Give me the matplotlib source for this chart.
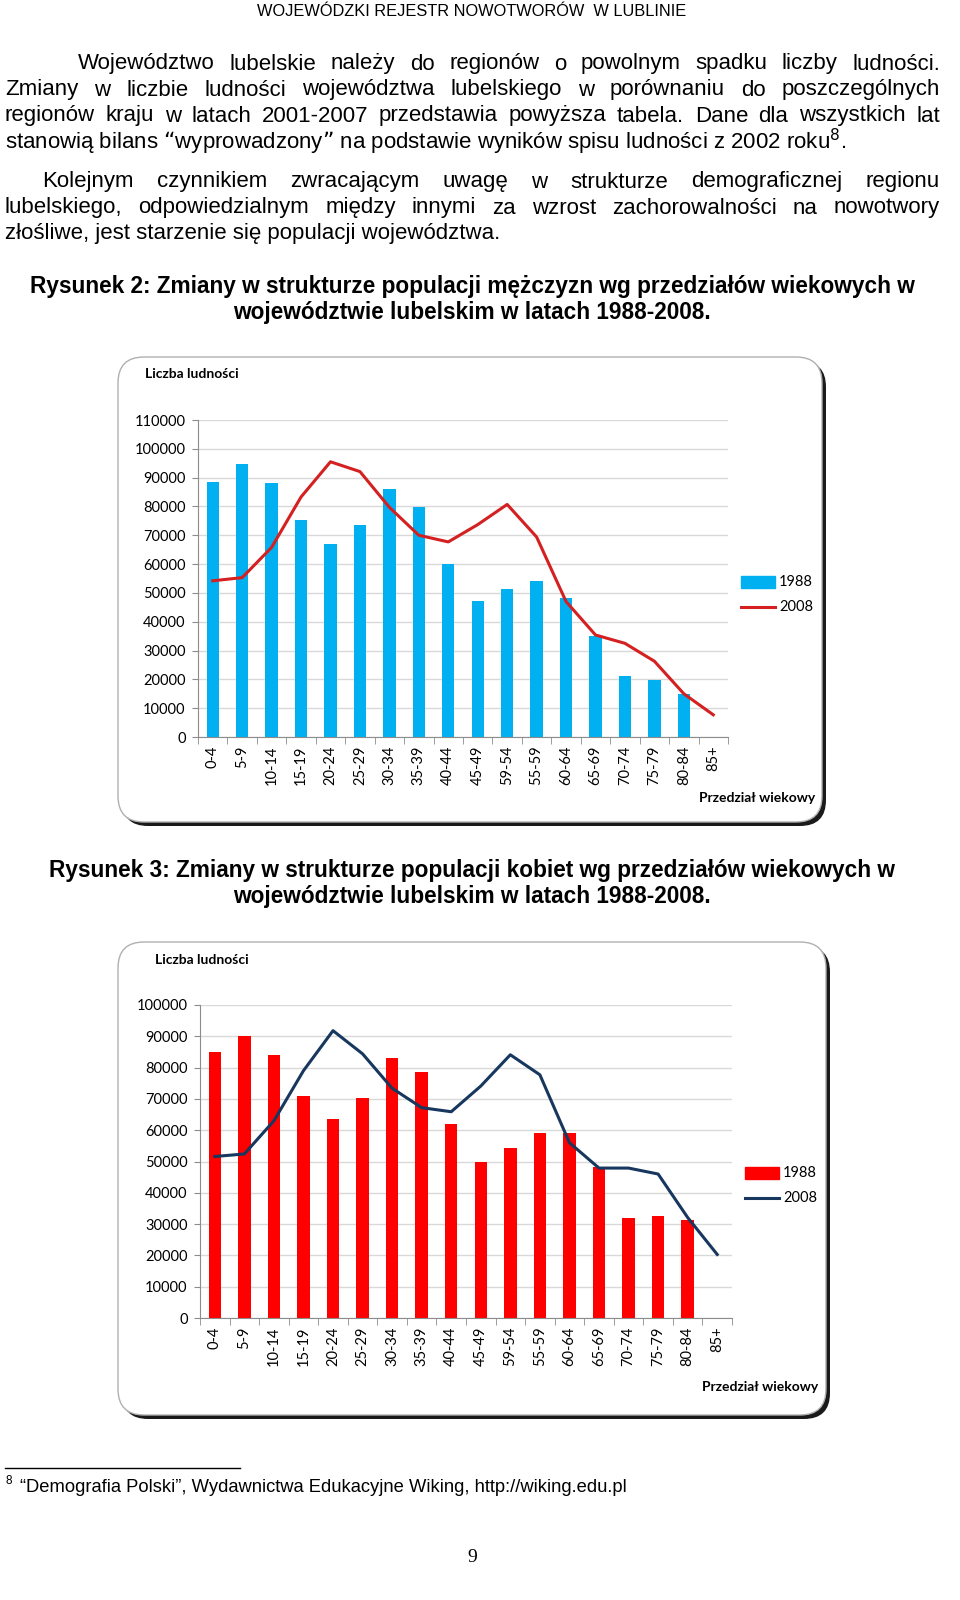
import matplotlib
matplotlib.use("Agg")
import matplotlib.pyplot as plt
import numpy as np
from matplotlib.patches import FancyBboxPatch, Rectangle

W, H = 960, 1600

groups = ["0-4", "5-9", "10-14", "15-19", "20-24", "25-29", "30-34", "35-39",
          "40-44", "45-49", "59-54", "55-59", "60-64", "65-69", "70-74",
          "75-79", "80-84", "85+"]

# Rysunek 2 - mezczyzni
men_1988 = [88400, 94600, 88100, 75400, 67100, 73400, 85900, 79800, 60200,
            47200, 51500, 54200, 48100, 34900, 21100, 19700, 14900]
men_2008 = [54200, 55300, 65800, 83300, 95500, 92100, 79700, 70000, 67700,
            73700, 80700, 69400, 47000, 35400, 32500, 26300, 15000, 7700]

# Rysunek 3 - kobiety
women_1988 = [85000, 90200, 83900, 70800, 63600, 70400, 83000, 78500, 61900,
              49900, 54400, 59200, 59200, 48200, 31800, 32500, 31400]
women_2008 = [51600, 52400, 63000, 79000, 91800, 84400, 73400, 67200, 65900,
              74100, 84100, 77700, 56000, 47900, 47900, 46000, 32100, 20300]

series_labels = ["1988", "2008"]

header = "WOJEWÓDZKI REJESTR NOWOTWORÓW  W LUBLINIE"
par1 = ["Województwo lubelskie należy do regionów o powolnym spadku liczby ludności.",
        "Zmiany w liczbie ludności województwa lubelskiego w porównaniu do poszczególnych",
        "regionów kraju w latach 2001-2007 przedstawia powyższa tabela. Dane dla wszystkich lat"]
par1_last = "stanowią bilans “wyprowadzony” na podstawie wyników spisu ludności z 2002 roku$^{8}$."
par2 = ["Kolejnym czynnikiem zwracającym uwagę w strukturze demograficznej regionu",
        "lubelskiego, odpowiedzialnym między innymi za wzrost zachorowalności na nowotwory"]
par2_last = "złośliwe, jest starzenie się populacji województwa."
title2 = ["Rysunek 2: Zmiany w strukturze populacji mężczyzn wg przedziałów wiekowych w",
          "województwie lubelskim w latach 1988-2008."]
title3 = ["Rysunek 3: Zmiany w strukturze populacji kobiet wg przedziałów wiekowych w",
          "województwie lubelskim w latach 1988-2008."]
footnote = "“Demografia Polski”, Wydawnictwa Edukacyjne Wiking, http://wiking.edu.pl"

TXT = "Liberation Sans"
CH = "Lato"

fig = plt.figure(figsize=(W / 100, H / 100), dpi=100)
bg = fig.add_axes([0, 0, 1, 1], zorder=0)
bg.set_xlim(0, W)
bg.set_ylim(H, 0)
bg.axis("off")
r = fig.canvas.get_renderer()


def justified(text, y, x0, x1, size):
    words = text.split()
    arts = [bg.text(0, y, w, fontsize=size, family=TXT, va="center") for w in words]
    widths = [a.get_window_extent(r).width for a in arts]
    gap = (x1 - x0 - sum(widths)) / (len(words) - 1)
    x = x0
    for a, w in zip(arts, widths):
        a.set_x(x)
        x += w + gap


BODY = 16
bg.text(472, 12, header, fontsize=11.8, family=TXT, ha="center", va="center")
justified(par1[0], 64, 78, 940, BODY)
justified(par1[1], 90, 5, 940, BODY)
justified(par1[2], 116, 5, 940, BODY)
bg.text(5, 142, par1_last, fontsize=BODY, family=TXT, va="center")
justified(par2[0], 182, 42, 940, BODY)
justified(par2[1], 208, 5, 940, BODY)
bg.text(5, 234, par2_last, fontsize=BODY, family=TXT, va="center")

for i, line in enumerate(title2):
    bg.text(472, 287 + 26 * i, line, fontsize=16.3, family=TXT, weight="bold",
            ha="center", va="center")
for i, line in enumerate(title3):
    bg.text(472, 870 + 26 * i, line, fontsize=16.3, family=TXT, weight="bold",
            ha="center", va="center")

# footnote + page number
bg.plot([5, 240], [1468, 1468], color="black", lw=1)
bg.text(5, 1481, "8", fontsize=8.5, family=TXT, va="center")
bg.text(20, 1487, footnote, fontsize=13.2, family=TXT, va="center")
bg.text(472, 1558, "9", fontsize=14, family="Liberation Serif", ha="center", va="center")


def frame(x0, y0, x1, y1):
    bg.add_patch(FancyBboxPatch((x0 + 4, y0 + 4), x1 - x0, y1 - y0,
                                boxstyle="round,pad=0,rounding_size=26",
                                fc="#1a1a1a", ec="none", zorder=1))
    bg.add_patch(FancyBboxPatch((x0, y0), x1 - x0, y1 - y0,
                                boxstyle="round,pad=0,rounding_size=26",
                                fc="white", ec="#b0b0b0", lw=1, zorder=2))


def chart(rect, ymax, bars, line, bar_col, line_col, leg_x, leg_y, ylab_xy, xlab_xy):
    ax = fig.add_axes(rect, zorder=3)
    ax.patch.set_alpha(0)
    x = np.arange(len(groups))
    ax.bar(x[:len(bars)], bars, width=0.42, color=bar_col, zorder=2)
    ax.plot(x, line, color=line_col, lw=2.2, zorder=3)
    ax.set_xlim(-0.5, len(groups) - 0.5)
    ax.set_ylim(0, ymax)
    ax.set_yticks(np.arange(0, ymax + 1, 10000))
    ax.set_yticklabels([str(v) for v in range(0, ymax + 1, 10000)])
    ax.yaxis.grid(True, color="#d9d9d9", lw=1)
    ax.set_axisbelow(True)
    for s in ["top", "right"]:
        ax.spines[s].set_visible(False)
    for s in ["left", "bottom"]:
        ax.spines[s].set_color("#8c8c8c")
    ax.set_xticks(x)
    ax.set_xticklabels(groups, rotation=90, family=CH, fontsize=10.5)
    ax.set_xticks(np.arange(-0.5, len(groups)), minor=True)
    ax.tick_params(axis="x", which="major", length=0, pad=6)
    ax.tick_params(axis="x", which="minor", length=5, color="#8c8c8c")
    ax.tick_params(axis="y", length=4, color="#8c8c8c", pad=5)
    for t in ax.get_yticklabels():
        t.set_family(CH)
        t.set_fontsize(10.5)
    # legend
    bg.add_patch(Rectangle((leg_x, leg_y - 6), 34, 12, color=bar_col, zorder=3))
    bg.text(leg_x + 38, leg_y, series_labels[0], fontsize=10.5, family=CH, va="center", zorder=3)
    bg.plot([leg_x, leg_x + 34], [leg_y + 25, leg_y + 25], color=line_col, lw=2.2, zorder=3)
    bg.text(leg_x + 38, leg_y + 25, series_labels[1], fontsize=10.5, family=CH, va="center", zorder=3)
    bg.text(ylab_xy[0], ylab_xy[1], "Liczba ludności", fontsize=10, family=CH,
            weight="bold", va="center", zorder=3)
    bg.text(xlab_xy[0], xlab_xy[1], "Przedział wiekowy", fontsize=10, family=CH,
            weight="bold", ha="right", va="center", zorder=3)
    return ax


frame(118, 357, 822, 822)
chart([198 / W, 1 - 737 / H, 530 / W, 317 / H], 110000, men_1988, men_2008,
      "#00b0f0", "#d42020", 741, 582, (145, 374), (815, 798))

frame(118, 942, 826, 1415)
chart([200 / W, 1 - 1318 / H, 532 / W, 313 / H], 100000, women_1988, women_2008,
      "#ff0000", "#17375e", 745, 1173, (155, 960), (818, 1387))

fig.savefig("out.png", dpi=100)
